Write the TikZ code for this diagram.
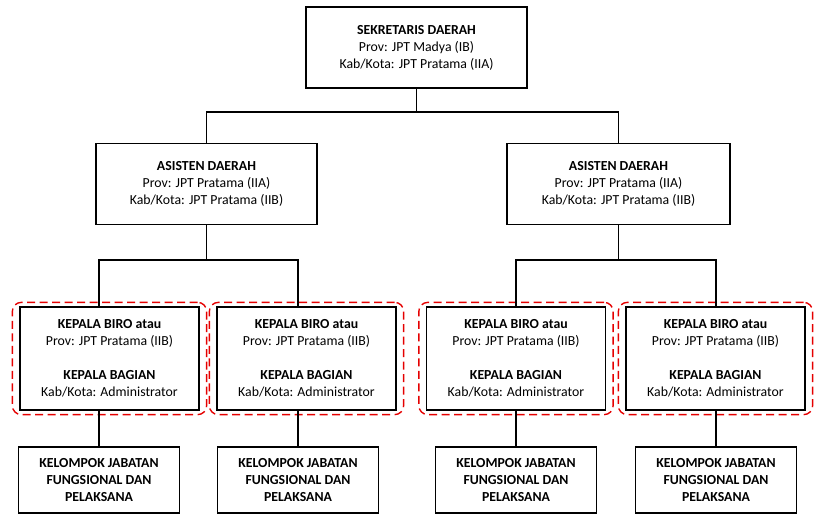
\documentclass[tikz,border=0pt]{standalone}
\usepackage{fontspec}
\setmainfont{Carlito}
\usetikzlibrary{fit}

\begin{document}
\begin{tikzpicture}[
  x=1pt, y=1pt,
  jabatan/.style={draw, line width=1.3pt, align=center, inner sep=0pt,
    font=\fontsize{13.8}{17}\selectfont},
  grup/.style={draw=red!90!black, line width=1.4pt, dash pattern=on 8pt off 4.5pt,
    rounded corners=9pt, inner xsep=7pt, inner ysep=4pt},
  garis/.style={line width=1.3pt}
]
\useasboundingbox (0,0) rectangle (823,522);

\node[jabatan, minimum width=221pt, minimum height=81pt] (sekda) at (416.5,474.5)
  {\textbf{SEKRETARIS DAERAH}\\Prov: JPT Madya (IB)\\Kab/Kota: JPT Pratama (IIA)};

\node[jabatan, minimum width=221pt, minimum height=81pt] (asda1) at (206.5,338)
  {\textbf{ASISTEN DAERAH}\\Prov: JPT Pratama (IIA)\\Kab/Kota: JPT Pratama (IIB)};
\node[jabatan, minimum width=223pt, minimum height=81pt] (asda2) at (618.5,338)
  {\textbf{ASISTEN DAERAH}\\Prov: JPT Pratama (IIA)\\Kab/Kota: JPT Pratama (IIB)};

\foreach \i/\x in {1/109.5, 2/306.5, 3/516, 4/715.5}
  \node[jabatan, minimum width=179pt, minimum height=103pt] (biro\i) at (\x,163.5)
    {\textbf{KEPALA BIRO atau}\\Prov: JPT Pratama (IIB)\\[17pt]
     \textbf{KEPALA BAGIAN}\\Kab/Kota: Administrator};

\foreach \i/\x in {1/99, 2/298, 3/516, 4/716}
  \node[jabatan, minimum width=161pt, minimum height=66pt] (kjf\i) at (\x,42)
    {\textbf{KELOMPOK JABATAN}\\\textbf{FUNGSIONAL DAN}\\\textbf{PELAKSANA}};

% dashed red groups
\foreach \i in {1,...,4}
  \node[grup, fit=(biro\i)] (grup\i) {};

% connectors
\coordinate (t0) at (416.5,410);
\coordinate (t1) at (206.5,262);
\coordinate (t2) at (618.5,262);

\draw[garis] (sekda) -- (t0);
\draw[garis] (asda1.north) |- (t0) -| (asda2.north);

\draw[garis] (asda1) -- (t1);
\draw[garis] (asda2) -- (t2);
\draw[garis] (kjf1.north |- biro1.north) |- (t1) -| (kjf2.north |- biro2.north);
\draw[garis] (kjf3.north |- biro3.north) |- (t2) -| (kjf4.north |- biro4.north);

\foreach \i in {1,...,4}
  \draw[garis] (kjf\i.north |- biro\i.south) -- (kjf\i.north);
\end{tikzpicture}
\end{document}
